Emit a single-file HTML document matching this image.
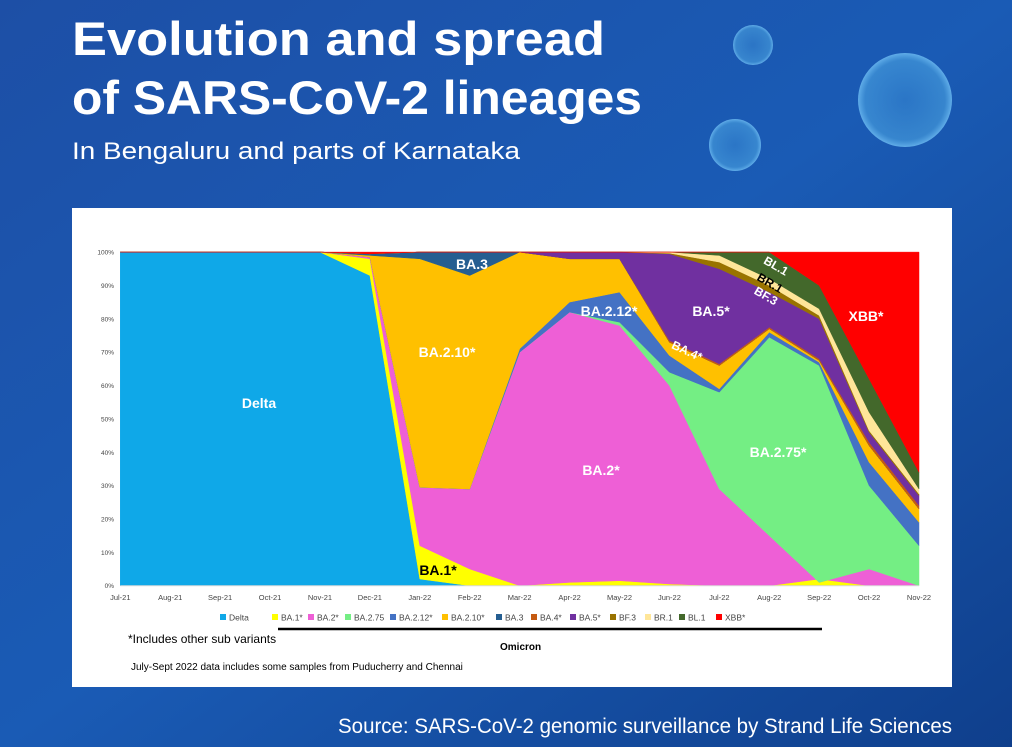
<!DOCTYPE html>
<html><head><meta charset="utf-8"><style>
html,body{margin:0;padding:0;width:1012px;height:747px;overflow:hidden;background:#1a56ad}
svg{display:block}
</style></head><body>
<svg id="s" width="1012" height="747" xmlns="http://www.w3.org/2000/svg" font-family="Liberation Sans, sans-serif">
<defs>
<linearGradient id="bg" x1="0" y1="0" x2="1" y2="1">
<stop offset="0" stop-color="#1d4fa6"/><stop offset="0.5" stop-color="#1a5bb5"/><stop offset="1" stop-color="#0f3f8c"/>
</linearGradient>
<radialGradient id="vg" cx="0.5" cy="0.5" r="0.5">
<stop offset="0" stop-color="#4aa8e8" stop-opacity="0.35"/><stop offset="0.85" stop-color="#5bbcf0" stop-opacity="0.45"/><stop offset="1" stop-color="#7fd0ff" stop-opacity="0.7"/>
</radialGradient>
</defs>
<rect width="1012" height="747" fill="url(#bg)"/>
<circle cx="905" cy="100" r="47" fill="url(#vg)"/>
<circle cx="735" cy="145" r="26" fill="url(#vg)"/>
<circle cx="753" cy="45" r="20" fill="url(#vg)"/>
<text x="72" y="55" fill="#fff" font-size="47" font-weight="bold" textLength="533" lengthAdjust="spacingAndGlyphs">Evolution and spread</text>
<text x="72" y="114" fill="#fff" font-size="47" font-weight="bold" textLength="570" lengthAdjust="spacingAndGlyphs">of SARS-CoV-2 lineages</text>
<text x="72" y="159" fill="#fff" font-size="24" textLength="448" lengthAdjust="spacingAndGlyphs">In Bengaluru and parts of Karnataka</text>
<text x="952" y="733" fill="#fff" font-size="21" text-anchor="end" textLength="614" lengthAdjust="spacingAndGlyphs">Source: SARS-CoV-2 genomic surveillance by Strand Life Sciences</text>
<rect x="72" y="208" width="880" height="479" fill="#fff"/>
<g id="chart"></g>
<g id="labels" font-weight="bold" font-size="14" fill="#fff">
<text x="259" y="408" text-anchor="middle">Delta</text>
<text x="472" y="269" text-anchor="middle">BA.3</text>
<text x="447" y="357" text-anchor="middle">BA.2.10*</text>
<text x="438" y="575" text-anchor="middle" fill="#000">BA.1*</text>
<text x="601" y="475" text-anchor="middle">BA.2*</text>
<text x="609" y="316" text-anchor="middle">BA.2.12*</text>
<text x="711" y="316" text-anchor="middle">BA.5*</text>
<text x="687" y="355" text-anchor="middle" font-size="12" transform="rotate(25 687 351)">BA.4*</text>
<text x="778" y="457" text-anchor="middle">BA.2.75*</text>
<text x="866" y="321" text-anchor="middle">XBB*</text>
<text x="776" y="270" text-anchor="middle" font-size="12" transform="rotate(30 776 266)">BL.1</text>
<text x="770" y="287" text-anchor="middle" font-size="12" fill="#000" transform="rotate(30 770 283)">BR.1</text>
<text x="766" y="300" text-anchor="middle" font-size="12" transform="rotate(30 766 296)">BF.3</text>
</g>
<g id="legend" font-size="9" fill="#333"></g>
<line x1="278" y1="629" x2="822" y2="629" stroke="#000" stroke-width="2.5"/>
<text x="128" y="643" font-size="12" fill="#000">*Includes other sub variants</text>
<text x="500" y="650" font-size="10" font-weight="bold" fill="#000">Omicron</text>
<text x="131" y="670" font-size="10" fill="#000">July-Sept 2022 data includes some samples from Puducherry and Chennai</text>
</svg>
<script>
var ns="http://www.w3.org/2000/svg";
function X(i){return 120.3+49.92*i}
function Y(p){return 585.7-3.336*p}
var F=[100,100,100,100,100];
var L=[
["#0fa8e8",[100,100,100,100,100,93,2,0,0,0,0,0,0,0,0,0,0]],
["#ffff00",[100,100,100,100,100,98,12,5,0,1,1.5,0.5,0,0,2,0,0]],
["#ee5fd6",[100,100,100,100,100,98.5,29.5,29,70,82,78,60,29,15,1,5,0]],
["#74ee84",[100,100,100,100,100,98.5,29.5,29,70,82,79,64,58,74.5,66,30,12]],
["#4472c4",[100,100,100,100,100,98.5,29.5,29,71,85,88,69,59,76,67,37,19]],
["#ffc000",[100,100,100,100,100,99,98,93,100,98,98,73,66,77,67.5,42,23]],
["#255e91",[100,100,100,100,100,99.5,100,100,100,98,98,73,66,77,67.5,42,23]],
["#c55a11",[100,100,100,100,100,99.5,100,100,100,98,98,73.5,66.5,77.5,68,43,24]],
["#7030a0",[100,100,100,100,100,99.5,100,100,100,100,100,99.5,95,88,80,46,27]],
["#997300",[100,100,100,100,100,99.5,100,100,100,100,100,99.7,97,90,81,46.5,27.5]],
["#ffe699",[100,100,100,100,100,99.5,100,100,100,100,100,100,99,92,83,52,29]],
["#43682b",[100,100,100,100,100,99.5,100,100,100,100,100,100,100,100,90,62,34]],
["#ff0000",[100,100,100,100,100,100,100,100,100,100,100,100,100,100,100,100,100]]
];
var g=document.getElementById("chart");
function el(t,a,p){var e=document.createElementNS(ns,t);for(var k in a)e.setAttribute(k,a[k]);(p||g).appendChild(e);return e}
var prev=[];for(var i=0;i<17;i++)prev.push(0);
L.forEach(function(l){
 var pts=[];for(var i=0;i<17;i++)pts.push(X(i).toFixed(1)+","+Y(l[1][i]).toFixed(1));
 for(var i=16;i>=0;i--)pts.push(X(i).toFixed(1)+","+Y(prev[i]).toFixed(1));
 el("polygon",{points:pts.join(" "),fill:l[0],stroke:l[0],"stroke-width":"0.5"});
 prev=l[1];
});
el("line",{x1:X(0),y1:Y(0),x2:X(16),y2:Y(0),stroke:"#d9d9d9","stroke-width":1});
for(var p=0;p<=100;p+=10){var t=el("text",{x:114,y:Y(p)+2.5,"font-size":6.5,fill:"#444","text-anchor":"end"});t.textContent=p+"%";}
var M=["Jul-21","Aug-21","Sep-21","Oct-21","Nov-21","Dec-21","Jan-22","Feb-22","Mar-22","Apr-22","May-22","Jun-22","Jul-22","Aug-22","Sep-22","Oct-22","Nov-22"];
M.forEach(function(m,i){var t=el("text",{x:X(i),y:600,"font-size":7.5,fill:"#444","text-anchor":"middle"});t.textContent=m;});
var lg=document.getElementById("legend");
var names=["Delta","BA.1*","BA.2*","BA.2.75","BA.2.12*","BA.2.10*","BA.3","BA.4*","BA.5*","BF.3","BR.1","BL.1","XBB*"];
var xs=[220,272,308,345,390,442,496,531,570,610,645,679,716];
names.forEach(function(n,i){el("rect",{x:xs[i],y:614,width:6,height:6,fill:L[i][1]?L[i][0]:"#000"},lg);var t=el("text",{x:xs[i]+9,y:620.5,"font-size":8.5,fill:"#444"},lg);t.textContent=n;});
</script>
</body></html>
